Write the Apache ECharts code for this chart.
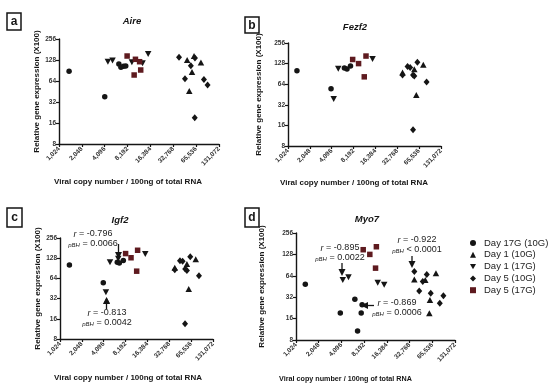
<!DOCTYPE html>
<html><head><meta charset="utf-8">
<script src="https://cdn.jsdelivr.net/npm/echarts@6/dist/echarts.min.js"></script>
<style>html,body{margin:0;padding:0;background:#fff}#c{width:550px;height:390px}</style>
</head><body><div id="c"></div>
<script>
// ---------- data ----------
const groupNames = ['Day 17G (10G)', 'Day 1 (10G)', 'Day 1 (17G)', 'Day 5 (10G)', 'Day 5 (17G)'];
const panelTitles = ['Aire', 'Fezf2', 'Igf2', 'Myo7'];
const panelLetters = ['a', 'b', 'c', 'd'];
const xTickValues = [1024, 2048, 4096, 8192, 16384, 32768, 65536, 131072];
const yTickValues = [8, 16, 32, 64, 128, 256];

// Aire
const aireD17G10 = [[1390, 88], [4100, 38], [6290, 112], [6700, 101], [7250, 104], [7750, 105]];
const aireD1_10G = [[49900, 128], [61500, 146], [75800, 118], [53200, 46], [57800, 86]];
const aireD1_17G = [[4510, 121], [5190, 126], [9340, 119], [12900, 115], [15300, 156]];
const aireD5_10G = [[39000, 140], [46700, 69], [55800, 106], [63200, 137], [83000, 67], [92700, 56], [62800, 19]];
const aireD5_17G = [[8080, 146], [10000, 78], [10400, 131], [11800, 121], [12200, 92]];
// Fezf2
const fezfD17G10 = [[1360, 101], [4010, 55], [6120, 110], [6650, 107], [7430, 118]];
const fezfD1_10G = [[38700, 95], [56200, 106], [74800, 123], [59900, 44.6]];
const fezfD1_17G = [[4360, 39], [5040, 108], [14950, 149]];
const fezfD5_10G = [[38700, 87], [45400, 116], [49300, 112], [54000, 87], [56200, 84], [62000, 134], [83000, 69], [54000, 13.8]];
const fezfD5_17G = [[7960, 147], [9600, 128], [12150, 165], [11500, 82]];
// Igf2
const igfD17G10 = [[1380, 101], [4040, 55], [6300, 111], [6720, 109], [7630, 118]];
const igfD1_10G = [[39000, 92], [57300, 105], [75800, 123], [60700, 44.6], [4500, 30]];
const igfD1_17G = [[4390, 39.7], [5000, 111], [6500, 126], [15300, 148]];
const igfD5_10G = [[39000, 86], [46000, 117], [50000, 115], [54300, 88], [57300, 84], [63700, 134], [84000, 70], [54000, 13.5]];
const igfD5_17G = [[8200, 150], [9740, 130], [12000, 168], [11650, 82]];
// Myo7
const myoD17G10 = [[1360, 48.8], [3960, 19.2], [6170, 30], [6700, 10.7], [7490, 19.2], [7700, 25]];
const myoD1_10G = [[37900, 57], [52900, 56], [73300, 69.6], [61000, 29.3], [59900, 19]];
const myoD1_17G = [[4270, 56], [5080, 61], [12400, 51], [15100, 48]];
const myoD5_10G = [[37900, 73.5], [44000, 39], [49000, 53], [55400, 67], [62500, 36.5], [82400, 26.4], [92000, 33.6]];
const myoD5_17G = [[7960, 149], [9740, 128], [11900, 164], [11600, 82]];

const panelData = [
  [aireD17G10, aireD1_10G, aireD1_17G, aireD5_10G, aireD5_17G],
  [fezfD17G10, fezfD1_10G, fezfD1_17G, fezfD5_10G, fezfD5_17G],
  [igfD17G10, igfD1_10G, igfD1_17G, igfD5_10G, igfD5_17G],
  [myoD17G10, myoD1_10G, myoD1_17G, myoD5_10G, myoD5_17G]
];

// ---------- styles / layout ----------
const FONT = 'Arial, "Liberation Sans", sans-serif';
const INK = '#151515';
const MAROON = '#5e1a1f';
const DOWN_TRI = 'path://M0,0L10,0L5,9Z';
const symbols = ['circle', 'triangle', DOWN_TRI, 'diamond', 'rect'];
const symSizes = [5.5, [6.5, 6], [6.5, 6], [6, 7], 5.5];
const colors = [INK, INK, INK, INK, MAROON];

const grids = [
  {left: 59, top: 39, width: 160, height: 105},
  {left: 288, top: 43, width: 153, height: 103},
  {left: 60, top: 238, width: 153, height: 101},
  {left: 296, top: 233, width: 159, height: 107}
];
const yNameGap = [18, 25, 17.5, 30];
const xNameGap = [34, 32.5, 34.5, 36];
const xNameShift = [11, 10.5, 8.5, 30];
const xNameSize = [8, 8, 8, 7.2];
const titlePos = [[127, 11], [350, 17], [115, 210], [362, 209]];
const letterBoxes = [[7, 13, 14, 17], [245, 17, 14, 16], [7, 208, 15, 19], [245, 208, 14, 19]];

function commas(v) {
  return String(Math.round(v)).replace(/\B(?=(\d{3})+(?!\d))/g, ',');
}

const xAxes = [], yAxes = [], series = [], titles = [];
grids.forEach((g, p) => {
  xAxes.push({
    gridIndex: p, type: 'log', logBase: 2, min: xTickValues[0], max: xTickValues[xTickValues.length - 1],
    name: 'Viral copy number / 100ng of total RNA', nameLocation: 'middle', nameGap: xNameGap[p],
    nameTextStyle: {fontFamily: FONT, fontWeight: 'bold', fontSize: xNameSize[p], color: INK, padding: [0, 2 * xNameShift[p], 0, 0]},
    axisLine: {lineStyle: {color: INK, width: 1.4}},
    axisTick: {show: true, length: 3, lineStyle: {color: INK, width: 1.2}},
    axisLabel: {rotate: 45, margin: 4, fontSize: 6.5, fontWeight: 'bold', color: '#333', fontFamily: FONT, interval: 0,
      formatter: v => commas(v)},
    splitLine: {show: false}, minorTick: {show: false}
  });
  yAxes.push({
    gridIndex: p, type: 'log', logBase: 2, min: yTickValues[0], max: yTickValues[yTickValues.length - 1],
    name: 'Relative gene expression (X100)', nameLocation: 'middle', nameGap: yNameGap[p], nameRotate: 90,
    nameTextStyle: {fontFamily: FONT, fontWeight: 'bold', fontSize: 8, color: INK},
    axisLine: {show: true, lineStyle: {color: INK, width: 1.4}},
    axisTick: {show: true, length: 3, lineStyle: {color: INK, width: 1.2}},
    axisLabel: {margin: 3, fontSize: 6.5, fontWeight: 'bold', color: '#333', fontFamily: FONT, formatter: v => commas(v)},
    splitLine: {show: false}
  });
  titles.push({
    text: panelTitles[p], left: titlePos[p][0], top: titlePos[p][1], textAlign: 'center',
    textStyle: {fontFamily: FONT, fontStyle: 'italic', fontWeight: 'bold', fontSize: 9.5, color: INK}
  });
  panelData[p].forEach((d, k) => {
    series.push({
      type: 'scatter', name: groupNames[k], xAxisIndex: p, yAxisIndex: p, data: d,
      symbol: symbols[k], symbolSize: symSizes[k], itemStyle: {color: colors[k], opacity: 1},
      emphasis: {disabled: true}, z: k === 4 ? 3 : 2
    });
  });
});

// ---------- annotations ----------
const graphics = [];
letterBoxes.forEach((b, i) => {
  graphics.push({type: 'rect', shape: {x: b[0], y: b[1], width: b[2], height: b[3]},
    style: {fill: 'none', stroke: INK, lineWidth: 1.5}});
  graphics.push({type: 'text', x: b[0] + b[2] / 2, y: b[1] + b[3] / 2 + 0.5,
    style: {text: panelLetters[i], font: 'bold 12px ' + FONT, fill: INK, align: 'center', verticalAlign: 'middle'}});
});
function arrow(x1, y1, x2, y2) {
  const a = Math.atan2(y2 - y1, x2 - x1), L = 7, W = 3.5;
  const bx = x2 - L * Math.cos(a), by = y2 - L * Math.sin(a);
  const px = -Math.sin(a) * W, py = Math.cos(a) * W;
  graphics.push({type: 'line', shape: {x1, y1, x2: bx, y2: by}, style: {stroke: INK, lineWidth: 1.3}});
  graphics.push({type: 'polygon', shape: {points: [[x2, y2], [bx + px, by + py], [bx - px, by - py]]}, style: {fill: INK}});
}
function stat(cx, cy, r, op, p) {
  graphics.push({type: 'text', x: cx, y: cy, style: {
    text: '{i|r} = ' + r, align: 'center', verticalAlign: 'middle', fill: '#222', font: '9px ' + FONT,
    rich: {i: {fontStyle: 'italic', fontSize: 9, fontFamily: FONT, fill: '#222'}}}});
  graphics.push({type: 'text', x: cx, y: cy + 10, style: {
    text: '{s|pBH} ' + op + ' ' + p, align: 'center', verticalAlign: 'middle', fill: '#222', font: '9px ' + FONT,
    rich: {s: {fontStyle: 'italic', fontSize: 6, fontFamily: FONT, fill: '#222', padding: [2, 0, 0, 0]}}}});
}
const statLabels = [
  [93, 234, '-0.796', '=', '0.0066'],
  [107, 313, '-0.813', '=', '0.0042'],
  [340, 248, '-0.895', '=', '0.0022'],
  [417, 240, '-0.922', '<', '0.0001'],
  [397, 303, '-0.869', '=', '0.0006']
];
statLabels.forEach(s => stat(s[0], s[1], s[2], s[3], s[4]));
arrow(118.5, 244, 118.5, 259);
arrow(106.5, 309, 106.5, 297);
arrow(342, 263, 342, 276);
arrow(412, 256, 412, 268);
arrow(374, 305.5, 361, 305.5);

const chart = echarts.init(document.getElementById('c'), null, {renderer: 'canvas'});
chart.setOption({
  backgroundColor: '#fff',
  animation: false,
  title: titles,
  grid: grids,
  xAxis: xAxes,
  yAxis: yAxes,
  legend: {
    orient: 'vertical', left: 465, top: 233, itemWidth: 6, itemHeight: 6, itemGap: 1.8,
    selectedMode: false,
    textStyle: {fontFamily: FONT, fontSize: 9.5, color: '#222', padding: [0, 0, 0, 3]},
    data: groupNames.map((n, k) => ({name: n, icon: symbols[k]}))
  },
  series: series,
  graphic: graphics
});
</script></body></html>
